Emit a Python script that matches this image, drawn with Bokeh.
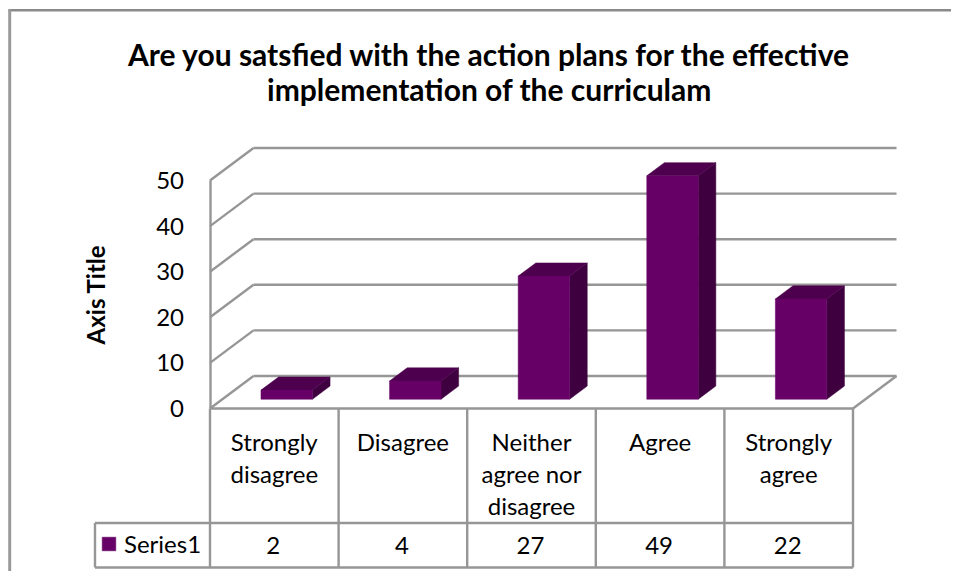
from bokeh.plotting import figure
from bokeh.models import Range1d, LinearAxis, FixedTicker, Legend, LegendItem
from bokeh.core.properties import value
from bokeh.embed import file_html
from bokeh.resources import INLINE

# ---- data ----
categories = ["Strongly\ndisagree", "Disagree", "Neither\nagree nor\ndisagree", "Agree", "Strongly\nagree"]
series1 = [2, 4, 27, 49, 22]
series_name = "Series1"
y_ticks = [0, 10, 20, 30, 40, 50]
title_lines = ["Are you satsfied with the action plans for the effective",
               "implementation of the curriculam"]
axis_title = "Axis Title"

# ---- layout / style ----
FONT = "Lato"
W, H = 951, 571
X0, UX = 209.5, 128.6      # px of category 0, px per category
Y0, UY = 408.0, 4.56       # px of value 0, px per unit
DX, DY = 43.5 / UX, 32.5 / UY   # full depth of the 3-D box, in data units
GRID = "#969696"
GW = 2.4
FRONT, SIDE, TOP = "#660066", "#3f003f", "#4d004d"
TEXT = "#000000"
FS = "24px"

def xd(px): return (px - X0) / UX
def yd(py): return (Y0 - py) / UY

p = figure(width=W, height=H, output_backend="svg", toolbar_location=None,
           x_range=Range1d(xd(0), xd(W)), y_range=Range1d(yd(H), yd(0)),
           min_border=0, outline_line_color=None, background_fill_color="white",
           border_fill_color="white", x_axis_type=None, y_axis_type=None)
p.grid.visible = False

n = len(categories)
ymax = y_ticks[-1]

# outer chart border (top & left)
p.segment(xd(8), yd(9.8), xd(W), yd(9.8), line_color="#8a8a8a", line_width=2.5)
p.segment(xd(9.2), yd(9), xd(9.2), yd(H), line_color="#9a9a9a", line_width=3)

# box: gridlines on the back wall, slanted lines on the side wall, floor
for t in y_ticks:
    p.segment(DX, t + DY, n + DX, t + DY, line_color=GRID, line_width=GW)
    p.segment(0, t, DX, t + DY, line_color=GRID, line_width=GW)
p.segment(0, 0, n, 0, line_color=GRID, line_width=GW)
p.segment(n, 0, n + DX, DY, line_color=GRID, line_width=GW)

# data table rules
tb_mid, tb_bot = yd(522.5), yd(567)
for i in range(n + 1):
    p.segment(i, 0, i, tb_bot, line_color=GRID, line_width=GW)
p.segment(xd(94.5), tb_mid, n, tb_mid, line_color=GRID, line_width=GW)
p.segment(xd(94.5), tb_bot, n, tb_bot, line_color=GRID, line_width=GW)
p.segment(xd(94.5), tb_mid, xd(94.5), tb_bot, line_color=GRID, line_width=GW)

# 3-D bars
D0, D1 = 0.285, 0.69
BW = 0.4
lefts = [i + 0.5 - BW / 2 + D0 * DX for i in range(n)]
rights = [l + BW for l in lefts]
bots = [D0 * DY] * n
tops = [D0 * DY + v for v in series1]
d = (D1 - D0)
side_x = [[r, r + d * DX, r + d * DX, r] for r in rights]
side_y = [[b, b + d * DY, t + d * DY, t] for b, t in zip(bots, tops)]
top_x = [[l, l + d * DX, r + d * DX, r] for l, r in zip(lefts, rights)]
top_y = [[t, t + d * DY, t + d * DY, t] for t in tops]
p.patches(side_x, side_y, fill_color=SIDE, line_color=SIDE, line_width=0.5)
p.patches(top_x, top_y, fill_color=TOP, line_color=TOP, line_width=0.5)
front = p.quad(left=lefts, right=rights, bottom=bots, top=tops,
               fill_color=FRONT, line_color=FRONT, line_width=0.5)

# value axis drawn inside the frame, on the box's front edge
ax = LinearAxis(ticker=FixedTicker(ticks=y_ticks), fixed_location=0, bounds=(0, ymax),
                axis_label=axis_title, axis_label_text_font=FONT,
                axis_label_text_font_style="bold", axis_label_text_font_size=FS,
                axis_label_text_color=TEXT, axis_label_standoff=44,
                major_label_text_font=FONT, major_label_text_font_size=FS,
                major_label_text_color=TEXT, major_label_standoff=20,
                major_tick_line_color=None, minor_tick_line_color=None,
                axis_line_color=GRID, axis_line_width=GW)
p.add_layout(ax, "left")

# category cells
p.text([i + 0.5 for i in range(n)], [yd(426)] * n, text=categories,
       text_font=value(FONT), text_font_size=FS, text_color=TEXT,
       text_align="center", text_baseline="top", text_line_height=1.11)

# value cells
p.text([i + 0.5 - 0.008 for i in range(n)], [yd(544.5)] * n, text=[str(v) for v in series1],
       text_font=value(FONT), text_font_size=FS, text_color=TEXT,
       text_align="center", text_baseline="middle")

# title
p.text([xd(489)] * len(title_lines), [yd(53), yd(88)], text=title_lines,
       text_font=value(FONT), text_font_style="bold", text_font_size="30px",
       text_color=TEXT, text_align="center", text_baseline="middle")

# legend key in the table's first cell
leg = Legend(items=[LegendItem(label=series_name, renderers=[front])],
             location=(100, 13), padding=0, margin=0, spacing=0,
             glyph_width=17, glyph_height=17, label_standoff=7,
             label_text_font=FONT, label_text_font_size=FS, label_text_color=TEXT,
             label_height=15, background_fill_alpha=0, border_line_color=None)
p.add_layout(leg, "center")

open("out.html", "w").write(file_html(p, INLINE))
